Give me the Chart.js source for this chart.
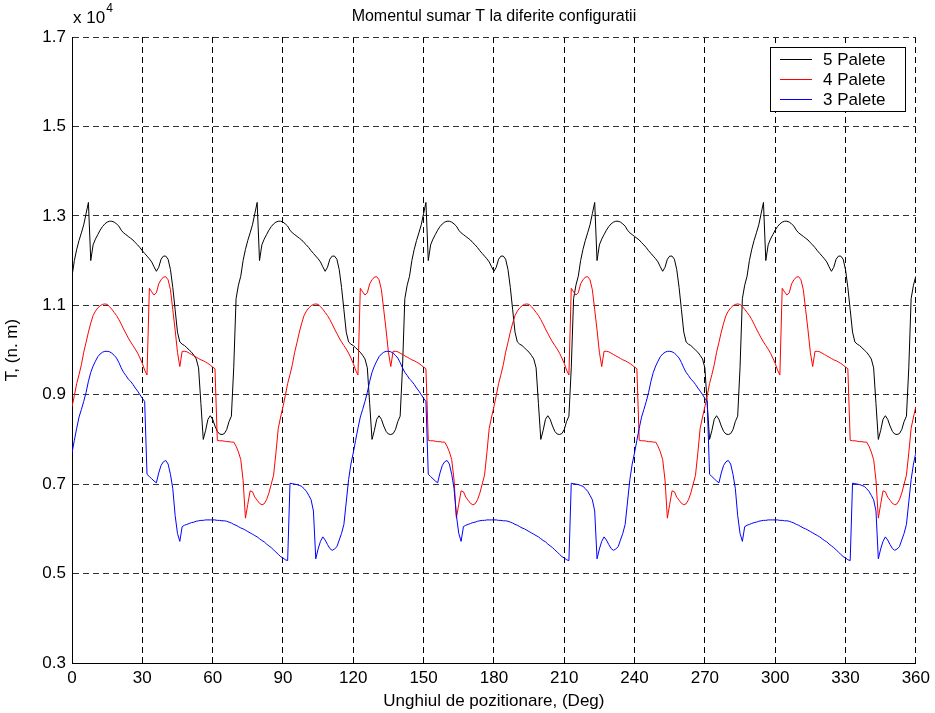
<!DOCTYPE html>
<html lang="ro">
<head>
  <meta charset="UTF-8">
  <title>Momentul sumar T la diferite configuratii</title>
  <script src="https://cdn.jsdelivr.net/npm/chart.js"></script>
  <style>
    html, body { margin: 0; padding: 0; background: #fff; }
    #wrap { width: 935px; height: 713px; position: relative; }
  </style>
</head>
<body>
  <div id="wrap">
    <canvas id="moment-chart"></canvas>
  </div>

  <script>
    // valori, in unitati de 10^4 (n. m), pas de 1 grad
    const palete5 = [
      // 0-71
      1.165,1.200,1.225,1.245,1.262,1.280,1.305,1.330,1.200,1.235,1.248,1.258,
      1.268,1.276,1.282,1.286,1.288,1.288,1.286,1.282,1.277,1.268,1.262,1.258,
      1.254,1.250,1.246,1.240,1.235,1.229,1.222,1.216,1.210,1.204,1.197,1.186,
      1.176,1.185,1.203,1.210,1.210,1.203,1.180,1.140,1.090,1.040,1.018,1.013,
      1.010,1.005,1.000,0.995,0.988,0.980,0.960,0.880,0.800,0.820,0.845,0.853,
      0.845,0.830,0.818,0.812,0.811,0.813,0.822,0.840,0.852,0.960,1.115,1.145,
      // 72-143
      1.165,1.200,1.225,1.245,1.262,1.280,1.305,1.330,1.200,1.235,1.248,1.258,
      1.268,1.276,1.282,1.286,1.288,1.288,1.286,1.282,1.277,1.268,1.262,1.258,
      1.254,1.250,1.246,1.240,1.235,1.229,1.222,1.216,1.210,1.204,1.197,1.186,
      1.176,1.185,1.203,1.210,1.210,1.203,1.180,1.140,1.090,1.040,1.018,1.013,
      1.010,1.005,1.000,0.995,0.988,0.980,0.960,0.880,0.800,0.820,0.845,0.853,
      0.845,0.830,0.818,0.812,0.811,0.813,0.822,0.840,0.852,0.960,1.115,1.145,
      // 144-215
      1.165,1.200,1.225,1.245,1.262,1.280,1.305,1.330,1.200,1.235,1.248,1.258,
      1.268,1.276,1.282,1.286,1.288,1.288,1.286,1.282,1.277,1.268,1.262,1.258,
      1.254,1.250,1.246,1.240,1.235,1.229,1.222,1.216,1.210,1.204,1.197,1.186,
      1.176,1.185,1.203,1.210,1.210,1.203,1.180,1.140,1.090,1.040,1.018,1.013,
      1.010,1.005,1.000,0.995,0.988,0.980,0.960,0.880,0.800,0.820,0.845,0.853,
      0.845,0.830,0.818,0.812,0.811,0.813,0.822,0.840,0.852,0.960,1.115,1.145,
      // 216-287
      1.165,1.200,1.225,1.245,1.262,1.280,1.305,1.330,1.200,1.235,1.248,1.258,
      1.268,1.276,1.282,1.286,1.288,1.288,1.286,1.282,1.277,1.268,1.262,1.258,
      1.254,1.250,1.246,1.240,1.235,1.229,1.222,1.216,1.210,1.204,1.197,1.186,
      1.176,1.185,1.203,1.210,1.210,1.203,1.180,1.140,1.090,1.040,1.018,1.013,
      1.010,1.005,1.000,0.995,0.988,0.980,0.960,0.880,0.800,0.820,0.845,0.853,
      0.845,0.830,0.818,0.812,0.811,0.813,0.822,0.840,0.852,0.960,1.115,1.145,
      // 288-359
      1.165,1.200,1.225,1.245,1.262,1.280,1.305,1.330,1.200,1.235,1.248,1.258,
      1.268,1.276,1.282,1.286,1.288,1.288,1.286,1.282,1.277,1.268,1.262,1.258,
      1.254,1.250,1.246,1.240,1.235,1.229,1.222,1.216,1.210,1.204,1.197,1.186,
      1.176,1.185,1.203,1.210,1.210,1.203,1.180,1.140,1.090,1.040,1.018,1.013,
      1.010,1.005,1.000,0.995,0.988,0.980,0.960,0.880,0.800,0.820,0.845,0.853,
      0.845,0.830,0.818,0.812,0.811,0.813,0.822,0.840,0.852,0.960,1.115,1.145,
      // 360
      1.165
    ];

    const palete4 = [
      // 0-89
      0.873,0.898,0.925,0.945,0.967,0.995,1.017,1.040,1.060,1.077,1.087,1.094,
      1.099,1.102,1.103,1.102,1.097,1.091,1.084,1.077,1.068,1.058,1.047,1.037,
      1.027,1.018,1.010,1.002,0.993,0.982,0.970,0.955,0.944,1.138,1.130,1.123,
      1.128,1.148,1.157,1.163,1.164,1.157,1.135,1.090,1.045,0.995,0.963,0.997,
      0.997,0.996,0.993,0.990,0.987,0.984,0.981,0.978,0.976,0.973,0.970,0.966,
      0.962,0.958,0.798,0.797,0.797,0.796,0.795,0.795,0.794,0.794,0.785,0.772,
      0.755,0.709,0.624,0.655,0.685,0.683,0.671,0.664,0.657,0.654,0.656,0.665,
      0.680,0.700,0.720,0.770,0.825,0.850,
      // 90-179
      0.873,0.898,0.925,0.945,0.967,0.995,1.017,1.040,1.060,1.077,1.087,1.094,
      1.099,1.102,1.103,1.102,1.097,1.091,1.084,1.077,1.068,1.058,1.047,1.037,
      1.027,1.018,1.010,1.002,0.993,0.982,0.970,0.955,0.944,1.138,1.130,1.123,
      1.128,1.148,1.157,1.163,1.164,1.157,1.135,1.090,1.045,0.995,0.963,0.997,
      0.997,0.996,0.993,0.990,0.987,0.984,0.981,0.978,0.976,0.973,0.970,0.966,
      0.962,0.958,0.798,0.797,0.797,0.796,0.795,0.795,0.794,0.794,0.785,0.772,
      0.755,0.709,0.624,0.655,0.685,0.683,0.671,0.664,0.657,0.654,0.656,0.665,
      0.680,0.700,0.720,0.770,0.825,0.850,
      // 180-269
      0.873,0.898,0.925,0.945,0.967,0.995,1.017,1.040,1.060,1.077,1.087,1.094,
      1.099,1.102,1.103,1.102,1.097,1.091,1.084,1.077,1.068,1.058,1.047,1.037,
      1.027,1.018,1.010,1.002,0.993,0.982,0.970,0.955,0.944,1.138,1.130,1.123,
      1.128,1.148,1.157,1.163,1.164,1.157,1.135,1.090,1.045,0.995,0.963,0.997,
      0.997,0.996,0.993,0.990,0.987,0.984,0.981,0.978,0.976,0.973,0.970,0.966,
      0.962,0.958,0.798,0.797,0.797,0.796,0.795,0.795,0.794,0.794,0.785,0.772,
      0.755,0.709,0.624,0.655,0.685,0.683,0.671,0.664,0.657,0.654,0.656,0.665,
      0.680,0.700,0.720,0.770,0.825,0.850,
      // 270-359
      0.873,0.898,0.925,0.945,0.967,0.995,1.017,1.040,1.060,1.077,1.087,1.094,
      1.099,1.102,1.103,1.102,1.097,1.091,1.084,1.077,1.068,1.058,1.047,1.037,
      1.027,1.018,1.010,1.002,0.993,0.982,0.970,0.955,0.944,1.138,1.130,1.123,
      1.128,1.148,1.157,1.163,1.164,1.157,1.135,1.090,1.045,0.995,0.963,0.997,
      0.997,0.996,0.993,0.990,0.987,0.984,0.981,0.978,0.976,0.973,0.970,0.966,
      0.962,0.958,0.798,0.797,0.797,0.796,0.795,0.795,0.794,0.794,0.785,0.772,
      0.755,0.709,0.624,0.655,0.685,0.683,0.671,0.664,0.657,0.654,0.656,0.665,
      0.680,0.700,0.720,0.770,0.825,0.850,
      // 360
      0.873
    ];

    const palete3 = [
      // 0-119
      0.770,0.798,0.825,0.850,0.867,0.885,0.905,0.930,0.950,0.964,0.975,0.985,
      0.991,0.995,0.997,0.997,0.996,0.993,0.988,0.982,0.972,0.960,0.950,0.943,
      0.935,0.930,0.923,0.915,0.908,0.900,0.892,0.885,0.722,0.717,0.712,0.707,
      0.703,0.725,0.742,0.750,0.753,0.745,0.722,0.690,0.630,0.590,0.572,0.605,
      0.608,0.610,0.612,0.614,0.615,0.617,0.618,0.619,0.619,0.620,0.620,0.620,
      0.620,0.620,0.619,0.619,0.618,0.618,0.617,0.615,0.613,0.610,0.608,0.605,
      0.602,0.600,0.597,0.594,0.591,0.588,0.585,0.582,0.578,0.574,0.571,0.566,
      0.562,0.558,0.553,0.548,0.543,0.538,0.535,0.531,0.529,0.702,0.701,0.700,
      0.699,0.697,0.695,0.690,0.684,0.675,0.665,0.640,0.533,0.555,0.572,0.582,
      0.575,0.565,0.556,0.552,0.555,0.560,0.575,0.590,0.610,0.660,0.710,0.745,
      // 120-239
      0.770,0.798,0.825,0.850,0.867,0.885,0.905,0.930,0.950,0.964,0.975,0.985,
      0.991,0.995,0.997,0.997,0.996,0.993,0.988,0.982,0.972,0.960,0.950,0.943,
      0.935,0.930,0.923,0.915,0.908,0.900,0.892,0.885,0.722,0.717,0.712,0.707,
      0.703,0.725,0.742,0.750,0.753,0.745,0.722,0.690,0.630,0.590,0.572,0.605,
      0.608,0.610,0.612,0.614,0.615,0.617,0.618,0.619,0.619,0.620,0.620,0.620,
      0.620,0.620,0.619,0.619,0.618,0.618,0.617,0.615,0.613,0.610,0.608,0.605,
      0.602,0.600,0.597,0.594,0.591,0.588,0.585,0.582,0.578,0.574,0.571,0.566,
      0.562,0.558,0.553,0.548,0.543,0.538,0.535,0.531,0.529,0.702,0.701,0.700,
      0.699,0.697,0.695,0.690,0.684,0.675,0.665,0.640,0.533,0.555,0.572,0.582,
      0.575,0.565,0.556,0.552,0.555,0.560,0.575,0.590,0.610,0.660,0.710,0.745,
      // 240-359
      0.770,0.798,0.825,0.850,0.867,0.885,0.905,0.930,0.950,0.964,0.975,0.985,
      0.991,0.995,0.997,0.997,0.996,0.993,0.988,0.982,0.972,0.960,0.950,0.943,
      0.935,0.930,0.923,0.915,0.908,0.900,0.892,0.885,0.722,0.717,0.712,0.707,
      0.703,0.725,0.742,0.750,0.753,0.745,0.722,0.690,0.630,0.590,0.572,0.605,
      0.608,0.610,0.612,0.614,0.615,0.617,0.618,0.619,0.619,0.620,0.620,0.620,
      0.620,0.620,0.619,0.619,0.618,0.618,0.617,0.615,0.613,0.610,0.608,0.605,
      0.602,0.600,0.597,0.594,0.591,0.588,0.585,0.582,0.578,0.574,0.571,0.566,
      0.562,0.558,0.553,0.548,0.543,0.538,0.535,0.531,0.529,0.702,0.701,0.700,
      0.699,0.697,0.695,0.690,0.684,0.675,0.665,0.640,0.533,0.555,0.572,0.582,
      0.575,0.565,0.556,0.552,0.555,0.560,0.575,0.590,0.610,0.660,0.710,0.745,
      // 360
      0.770
    ];

    const seriesNames = ['5 Palete', '4 Palete', '3 Palete'];
    const seriesColors = ['#000000', '#ff0000', '#0000ff'];
    const xTicks = [0, 30, 60, 90, 120, 150, 180, 210, 240, 270, 300, 330, 360];
    const yTicks = [0.3, 0.5, 0.7, 0.9, 1.1, 1.3, 1.5, 1.7];

    // unghiul de pozitionare, un punct pe grad
    const angles = palete5.map((_, i) => i);

    const FONT = 'Liberation Sans, Arial, Helvetica, sans-serif';

    function toPoints(values) {
      return values.map((v, i) => ({ x: angles[i], y: v }));
    }

    // titlu, exponent si legenda desenate ca la MATLAB
    const decorPlugin = {
      id: 'decor',
      afterDraw(chart) {
        const ctx = chart.ctx;
        const area = chart.chartArea;
        ctx.save();
        ctx.fillStyle = '#000';

        // titlu
        ctx.font = '16px ' + FONT;
        ctx.textAlign = 'center';
        ctx.textBaseline = 'middle';
        ctx.fillText('Momentul sumar T la diferite configuratii', (area.left + area.right) / 2, 17);

        // x 10^4
        ctx.textAlign = 'left';
        ctx.font = '17px ' + FONT;
        ctx.fillText('x 10', area.left + 1, 18);
        const w = ctx.measureText('x 10').width;
        ctx.font = '12px ' + FONT;
        ctx.fillText('4', area.left + 2 + w, 9);

        // legenda
        const lx = 770.5, ly = 47.5, lw = 135, lh = 64;
        ctx.fillStyle = '#fff';
        ctx.fillRect(lx, ly, lw, lh);
        ctx.strokeStyle = '#000';
        ctx.lineWidth = 1;
        ctx.strokeRect(lx, ly, lw, lh);
        ctx.font = '17px ' + FONT;
        ctx.textBaseline = 'middle';
        seriesNames.forEach((name, i) => {
          const y = 59.5 + i * 20;
          ctx.strokeStyle = seriesColors[i];
          ctx.beginPath();
          ctx.moveTo(780, y);
          ctx.lineTo(812, y);
          ctx.stroke();
          ctx.fillStyle = '#000';
          ctx.fillText(name, 823, y + 0.5);
        });
        ctx.restore();
      }
    };

    const ctx = document.getElementById('moment-chart').getContext('2d');

    new Chart(ctx, {
      type: 'line',
      data: {
        datasets: [palete5, palete4, palete3].map((vals, i) => ({
          label: seriesNames[i],
          data: toPoints(vals),
          borderColor: seriesColors[i],
          backgroundColor: seriesColors[i],
          borderWidth: 1,
          pointRadius: 0,
          tension: 0,
          fill: false,
          order: 2 - i
        }))
      },
      options: {
        responsive: true,
        maintainAspectRatio: false,
        animation: false,
        layout: { padding: { top: 37, right: 18, bottom: 0, left: 0 } },
        plugins: {
          legend: { display: false },
          title: { display: false },
          tooltip: { enabled: false }
        },
        scales: {
          x: {
            type: 'linear',
            min: 0,
            max: 360,
            afterBuildTicks: (scale) => { scale.ticks = xTicks.map(v => ({ value: v })); },
            afterFit: (scale) => { scale.height = 50; },
            ticks: {
              color: '#000',
              font: { family: FONT, size: 17 },
              padding: 5,
              maxRotation: 0,
              autoSkip: false
            },
            grid: { color: '#000', lineWidth: 1, drawTicks: false },
            border: { display: true, color: '#000', width: 1, dash: [6, 4] },
            title: {
              display: true,
              text: 'Unghiul de pozitionare, (Deg)',
              color: '#000',
              font: { family: FONT, size: 17 },
              padding: { top: 0, bottom: 1 }
            }
          },
          y: {
            min: 0.3,
            max: 1.7,
            afterBuildTicks: (scale) => { scale.ticks = yTicks.map(v => ({ value: v })); },
            afterFit: (scale) => { scale.width = 72; },
            ticks: {
              color: '#000',
              font: { family: FONT, size: 17 },
              padding: 6,
              callback: (v) => v.toFixed(1)
            },
            grid: { color: '#333', lineWidth: 1, drawTicks: false },
            border: { display: true, color: '#000', width: 1, dash: [6, 4] },
            title: {
              display: true,
              text: 'T, (n. m)',
              color: '#000',
              font: { family: FONT, size: 17 },
              padding: { top: 2, bottom: 0 }
            }
          }
        }
      },
      plugins: [decorPlugin]
    });
  </script>
</body>
</html>
